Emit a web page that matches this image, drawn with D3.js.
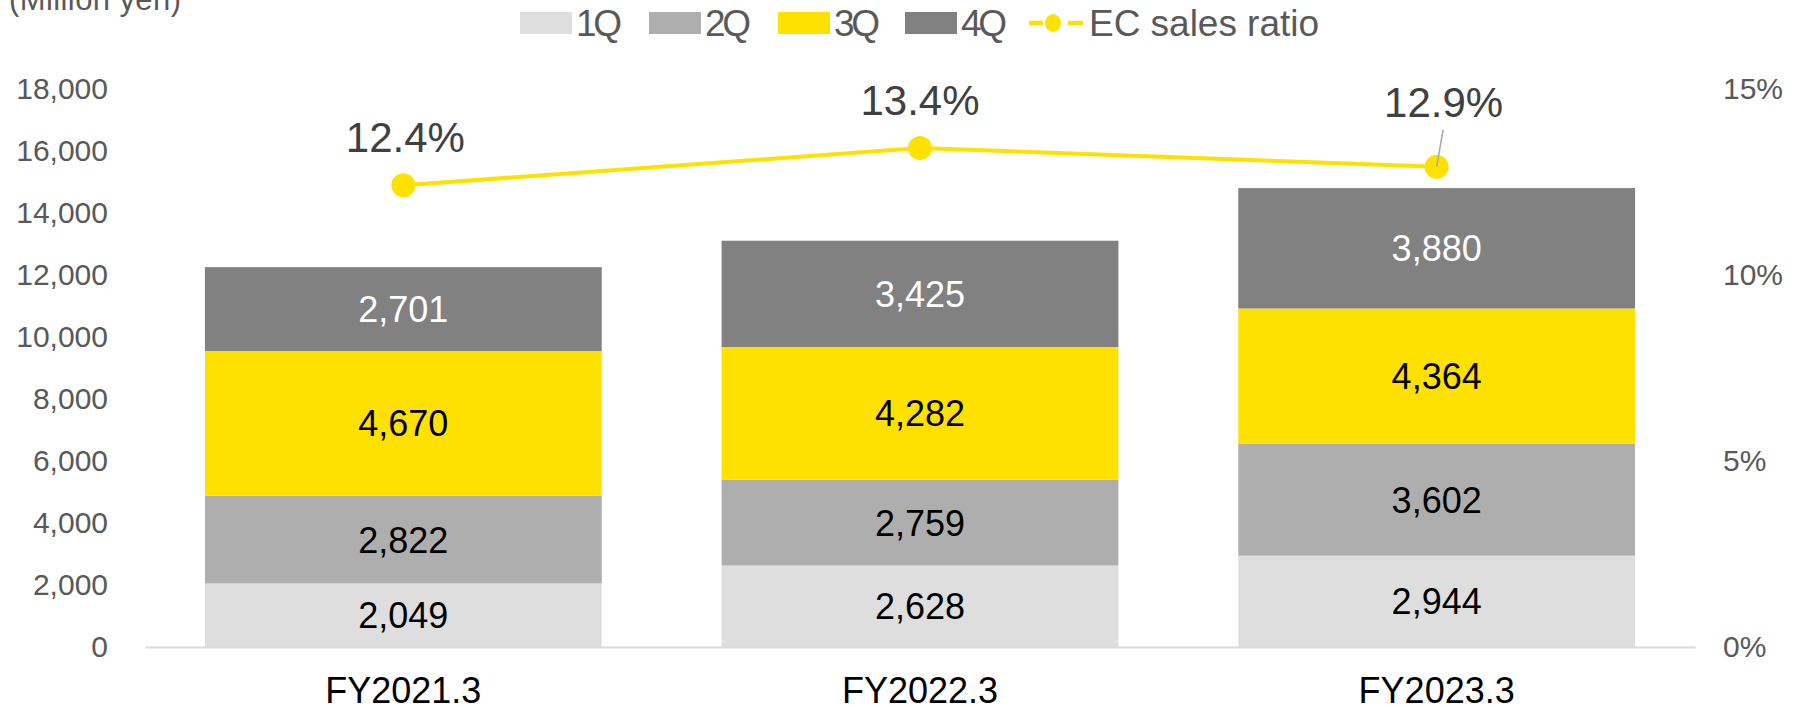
<!DOCTYPE html>
<html>
<head>
<meta charset="utf-8">
<title>EC sales</title>
<script src="https://d3js.org/d3.v7.min.js"></script>
<style>
body { margin: 0; background: #fff; font-family: 'Liberation Sans', Arial, sans-serif; }
svg { display: block; }
</style>
</head>
<body>
<div id="chart"></div>
<script>
// data
var years = ["FY2021.3", "FY2022.3", "FY2023.3"];
var quarters = ["1Q", "2Q", "3Q", "4Q"];
var q1 = [2049, 2628, 2944];
var q2 = [2822, 2759, 3602];
var q3 = [4670, 4282, 4364];
var q4 = [2701, 3425, 3880];
var ecRatio = [12.4, 13.4, 12.9];
var leftTicks = [0, 2000, 4000, 6000, 8000, 10000, 12000, 14000, 16000, 18000];
var rightTicks = [0, 5, 10, 15];
var lineName = "EC sales ratio";
var unitLabel = "(Million yen)";

var W = 1802, H = 707;
var margin = {top: 88.5, right: 107, bottom: 60, left: 145};
var colors = ["#dedede", "#aeaeae", "#ffe100", "#818181"];
var labelColors = ["#000", "#000", "#000", "#fff"];
var yellow = "#ffe100";

var svg = d3.select("#chart").append("svg")
    .attr("width", W).attr("height", H);

var x = d3.scaleBand()
    .domain(years)
    .range([margin.left, W - margin.right])
    .paddingInner(0.232)
    .paddingOuter(0.116);

var y = d3.scaleLinear()
    .domain([0, 18000])
    .range([H - margin.bottom, margin.top]);

var y2 = d3.scaleLinear()
    .domain([0, 15])
    .range([H - margin.bottom, margin.top]);

// stack the quarters
var rows = years.map(function(yr, i) {
  return {year: yr, "1Q": q1[i], "2Q": q2[i], "3Q": q3[i], "4Q": q4[i]};
});
var series = d3.stack().keys(quarters)(rows);

var layers = svg.selectAll("g.layer")
    .data(series)
  .enter().append("g")
    .attr("class", "layer")
    .attr("fill", function(d, i) { return colors[i]; });

layers.selectAll("rect")
    .data(function(d) { return d; })
  .enter().append("rect")
    .attr("x", function(d) { return x(d.data.year); })
    .attr("width", x.bandwidth())
    .attr("y", function(d) { return y(d[1]); })
    .attr("height", function(d) { return y(d[0]) - y(d[1]); });

// value labels in segments
series.forEach(function(s, k) {
  svg.append("g").selectAll("text")
      .data(s)
    .enter().append("text")
      .attr("x", function(d) { return x(d.data.year) + x.bandwidth() / 2; })
      .attr("y", function(d) { return (y(d[0]) + y(d[1])) / 2; })
      .attr("dy", "0.36em")
      .attr("text-anchor", "middle")
      .attr("font-size", 36)
      .attr("fill", labelColors[k])
      .text(function(d) { return d3.format(",")(d[1] - d[0]); });
});

// left axis
var yAxis = svg.append("g")
    .attr("transform", "translate(" + margin.left + ",0)")
    .call(d3.axisLeft(y).tickValues(leftTicks).tickSize(0).tickPadding(37).tickFormat(d3.format(",")));
yAxis.select(".domain").remove();
yAxis.selectAll("text")
    .attr("font-family", "'Liberation Sans', Arial, sans-serif")
    .attr("font-size", 30).attr("fill", "#595959");

// right axis
var y2Axis = svg.append("g")
    .attr("transform", "translate(" + (W - margin.right) + ",0)")
    .call(d3.axisRight(y2).tickValues(rightTicks).tickSize(0).tickPadding(28).tickFormat(function(d) { return d + "%"; }));
y2Axis.select(".domain").remove();
y2Axis.selectAll("text")
    .attr("font-family", "'Liberation Sans', Arial, sans-serif")
    .attr("font-size", 30).attr("fill", "#595959");

// bottom axis
var xAxis = svg.append("g")
    .attr("transform", "translate(0," + (H - margin.bottom) + ")")
    .call(d3.axisBottom(x).tickSize(0).tickPadding(30));
xAxis.select(".domain")
    .attr("stroke", "#d9d9d9").attr("stroke-width", 2);
xAxis.selectAll("text")
    .attr("font-family", "'Liberation Sans', Arial, sans-serif")
    .attr("font-size", 36).attr("fill", "#000");

// EC ratio line
var line = d3.line()
    .x(function(d, i) { return x(years[i]) + x.bandwidth() / 2; })
    .y(function(d) { return y2(d); });

svg.append("path")
    .datum(ecRatio)
    .attr("fill", "none")
    .attr("stroke", yellow)
    .attr("stroke-width", 4)
    .attr("d", line);

svg.selectAll("circle.dot")
    .data(ecRatio)
  .enter().append("circle")
    .attr("class", "dot")
    .attr("cx", function(d, i) { return x(years[i]) + x.bandwidth() / 2; })
    .attr("cy", function(d) { return y2(d); })
    .attr("r", 12)
    .attr("fill", yellow);

// ratio labels; the last one is lifted off the bar with a leader line
var lift = [33, 33, 50];
var shiftX = [2, 0, 7];
ecRatio.forEach(function(v, i) {
  var cx = x(years[i]) + x.bandwidth() / 2;
  var cy = y2(v);
  if (lift[i] > 40) {
    svg.append("line")
      .attr("x1", cx).attr("y1", cy)
      .attr("x2", cx + 6.5).attr("y2", cy - 37)
      .attr("stroke", "#a6a6a6").attr("stroke-width", 1.5);
  }
  svg.append("text")
    .attr("x", cx + shiftX[i])
    .attr("y", cy - lift[i])
    .attr("text-anchor", "middle")
    .attr("font-size", 42)
    .attr("fill", "#404040")
    .text(d3.format(".1f")(v) + "%");
});

// unit label
svg.append("text")
    .attr("x", 9).attr("y", 10)
    .attr("font-size", 31)
    .attr("fill", "#595959")
    .attr("textLength", 172)
    .text(unitLabel);

// legend
var legendX = [520, 649, 778, 905];
var leg = svg.append("g");
quarters.forEach(function(q, i) {
  leg.append("rect")
    .attr("x", legendX[i]).attr("y", 12)
    .attr("width", 52).attr("height", 22)
    .attr("fill", colors[i]);
  leg.append("text")
    .attr("x", legendX[i] + 56).attr("y", 23)
    .attr("dy", "0.36em")
    .attr("font-size", 37)
    .attr("fill", "#595959")
    .attr("textLength", 46)
    .text(q);
});
leg.append("line")
    .attr("x1", 1029).attr("x2", 1043)
    .attr("y1", 23).attr("y2", 23)
    .attr("stroke", yellow).attr("stroke-width", 4.5);
leg.append("line")
    .attr("x1", 1068).attr("x2", 1083)
    .attr("y1", 23).attr("y2", 23)
    .attr("stroke", yellow).attr("stroke-width", 4.5);
leg.append("ellipse")
    .attr("cx", 1053).attr("cy", 23).attr("rx", 8).attr("ry", 9)
    .attr("fill", yellow);
leg.append("text")
    .attr("x", 1089).attr("y", 23)
    .attr("dy", "0.36em")
    .attr("font-size", 37)
    .attr("fill", "#595959")
    .attr("textLength", 230)
    .text(lineName);
</script>
</body>
</html>
